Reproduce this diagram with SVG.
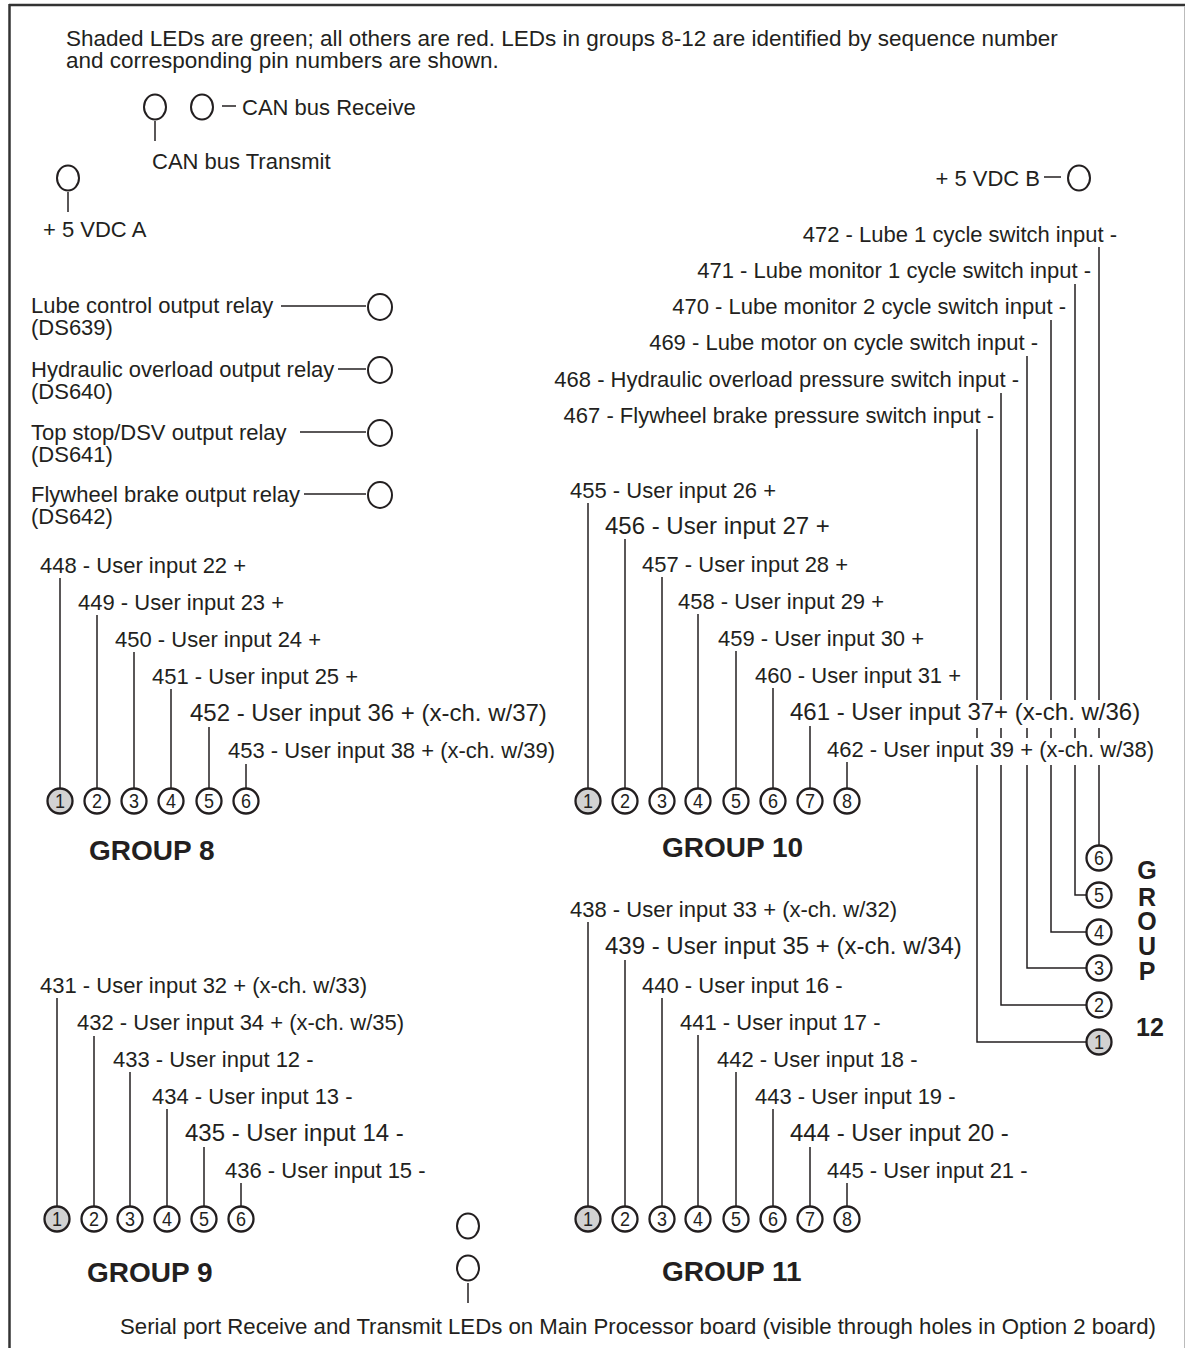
<svg xmlns="http://www.w3.org/2000/svg" width="1187" height="1348" viewBox="0 0 1187 1348">
<style>
text { font-family: "Liberation Sans", Arial, Helvetica, sans-serif; fill: #231f20; }
.t { font-size: 22px; }
.h { font-size: 22.5px; }
.b { font-size: 24px; }
.e { text-anchor: end; }
.g { font-size: 28px; font-weight: bold; }
.v { font-size: 25px; font-weight: bold; text-anchor: middle; }
.n { font-size: 20px; text-anchor: middle; }
.ln { stroke: #231f20; stroke-width: 1.5; fill: none; }
.led { fill: #ffffff; stroke: #231f20; stroke-width: 2; }
.d { fill: #ffffff; stroke: #231f20; stroke-width: 2.3; }
.on { fill: #d2d2d2; }
</style>
<defs>
<circle id="c" r="12.5"/>
</defs>
<rect x="0" y="0" width="1187" height="1348" fill="#ffffff"/>
<g id="frame">
<line x1="9" y1="5" x2="1185" y2="5" stroke="#333" stroke-width="2.5"/>
<line x1="9.5" y1="4" x2="9.5" y2="1348" stroke="#333" stroke-width="2.5"/>
<line x1="1184.5" y1="6" x2="1184.5" y2="1348" stroke="#bbb" stroke-width="1"/>
</g>
<g id="header">
<text class="h" x="66" y="46">Shaded LEDs are green; all others are red. LEDs in groups 8-12 are identified by sequence number</text>
<text class="h" x="66" y="68">and corresponding pin numbers are shown.</text>
</g>
<g id="connectors">
<line class="ln" x1="155" y1="121" x2="155" y2="141"/>
<line class="ln" x1="222" y1="106" x2="236" y2="106"/>
<line class="ln" x1="68" y1="192" x2="68" y2="212"/>
<line class="ln" x1="1044" y1="177" x2="1061" y2="177"/>
<line class="ln" x1="281" y1="306" x2="366" y2="306"/>
<line class="ln" x1="338" y1="369" x2="366" y2="369"/>
<line class="ln" x1="300" y1="432" x2="366" y2="432"/>
<line class="ln" x1="304" y1="494" x2="366" y2="494"/>
<line class="ln" x1="468" y1="1283" x2="468" y2="1303"/>
<!-- group 8 -->
<line class="ln" x1="60" y1="578" x2="60" y2="788"/>
<line class="ln" x1="97" y1="615" x2="97" y2="788"/>
<line class="ln" x1="134" y1="652" x2="134" y2="788"/>
<line class="ln" x1="171" y1="689" x2="171" y2="788"/>
<line class="ln" x1="209" y1="727" x2="209" y2="788"/>
<line class="ln" x1="246" y1="764" x2="246" y2="788"/>
<!-- group 10 -->
<line class="ln" x1="588" y1="503" x2="588" y2="788"/>
<line class="ln" x1="625" y1="539" x2="625" y2="788"/>
<line class="ln" x1="662" y1="577" x2="662" y2="788"/>
<line class="ln" x1="698" y1="614" x2="698" y2="788"/>
<line class="ln" x1="736" y1="651" x2="736" y2="788"/>
<line class="ln" x1="773" y1="688" x2="773" y2="788"/>
<line class="ln" x1="810" y1="726" x2="810" y2="788"/>
<line class="ln" x1="847" y1="762" x2="847" y2="788"/>
<!-- group 9 -->
<line class="ln" x1="57" y1="998" x2="57" y2="1206"/>
<line class="ln" x1="94" y1="1036" x2="94" y2="1206"/>
<line class="ln" x1="130" y1="1072" x2="130" y2="1206"/>
<line class="ln" x1="167" y1="1109" x2="167" y2="1206"/>
<line class="ln" x1="204" y1="1147" x2="204" y2="1206"/>
<line class="ln" x1="241" y1="1183" x2="241" y2="1206"/>
<!-- group 11 -->
<line class="ln" x1="588" y1="922" x2="588" y2="1206"/>
<line class="ln" x1="625" y1="960" x2="625" y2="1206"/>
<line class="ln" x1="662" y1="998" x2="662" y2="1206"/>
<line class="ln" x1="698" y1="1035" x2="698" y2="1206"/>
<line class="ln" x1="736" y1="1072" x2="736" y2="1206"/>
<line class="ln" x1="773" y1="1109" x2="773" y2="1206"/>
<line class="ln" x1="810" y1="1147" x2="810" y2="1206"/>
<line class="ln" x1="847" y1="1183" x2="847" y2="1206"/>
<!-- group 12 -->
<path class="ln" d="M977 429 V700 M977 728 V738 M977 765 V1042 H1086"/>
<path class="ln" d="M1001 393 V700 M1001 728 V738 M1001 765 V1005 H1086"/>
<path class="ln" d="M1027 356 V700 M1027 728 V738 M1027 765 V968 H1086"/>
<path class="ln" d="M1051 320 V700 M1051 728 V738 M1051 765 V932 H1086"/>
<path class="ln" d="M1075 284 V700 M1075 728 V738 M1075 765 V895 H1086"/>
<path class="ln" d="M1099 247 V700 M1099 728 V738 M1099 765 V846"/>
</g>
<g id="can-bus">
<ellipse class="led" cx="155" cy="107" rx="11" ry="12.5"/>
<ellipse class="led" cx="202" cy="107" rx="11" ry="12.5"/>
<text class="t" x="242" y="115">CAN bus Receive</text>
<text class="t" x="152" y="169">CAN bus Transmit</text>
</g>
<g id="vdc-a">
<ellipse class="led" cx="68" cy="178" rx="11" ry="12.5"/>
<text class="t" x="43" y="237">+ 5 VDC A</text>
</g>
<g id="vdc-b">
<ellipse class="led" cx="1079" cy="178" rx="11" ry="12.5"/>
<text class="t e" x="1040" y="186">+ 5 VDC B</text>
</g>
<g id="relays">
<text class="t" x="31" y="313">Lube control output relay</text>
<text class="t" x="31" y="335">(DS639)</text>
<ellipse class="led" cx="380" cy="307" rx="12" ry="13"/>
<text class="t" x="31" y="377">Hydraulic overload output relay</text>
<text class="t" x="31" y="399">(DS640)</text>
<ellipse class="led" cx="380" cy="370" rx="12" ry="13"/>
<text class="t" x="31" y="440">Top stop/DSV output relay</text>
<text class="t" x="31" y="462">(DS641)</text>
<ellipse class="led" cx="380" cy="433" rx="12" ry="13"/>
<text class="t" x="31" y="502">Flywheel brake output relay</text>
<text class="t" x="31" y="524">(DS642)</text>
<ellipse class="led" cx="380" cy="495" rx="12" ry="13"/>
</g>
<g id="group8">
<text class="t" x="40" y="573">448 - User input 22 +</text>
<text class="t" x="78" y="610">449 - User input 23 +</text>
<text class="t" x="115" y="647">450 - User input 24 +</text>
<text class="t" x="152" y="684">451 - User input 25 +</text>
<text class="b" x="190" y="721">452 - User input 36 + (x-ch. w/37)</text>
<text class="t" x="228" y="758">453 - User input 38 + (x-ch. w/39)</text>
<use href="#c" class="d on" x="60" y="801"/><text class="n" x="60" y="808" textLength="10" lengthAdjust="spacingAndGlyphs">1</text>
<use href="#c" class="d" x="97" y="801"/><text class="n" x="97" y="808" textLength="10" lengthAdjust="spacingAndGlyphs">2</text>
<use href="#c" class="d" x="134" y="801"/><text class="n" x="134" y="808" textLength="10" lengthAdjust="spacingAndGlyphs">3</text>
<use href="#c" class="d" x="171" y="801"/><text class="n" x="171" y="808" textLength="10" lengthAdjust="spacingAndGlyphs">4</text>
<use href="#c" class="d" x="209" y="801"/><text class="n" x="209" y="808" textLength="10" lengthAdjust="spacingAndGlyphs">5</text>
<use href="#c" class="d" x="246" y="801"/><text class="n" x="246" y="808" textLength="10" lengthAdjust="spacingAndGlyphs">6</text>
<text class="g" x="89" y="860">GROUP 8</text>
</g>
<g id="group10">
<text class="t" x="570" y="498">455 - User input 26 +</text>
<text class="b" x="605" y="534">456 - User input 27 +</text>
<text class="t" x="642" y="572">457 - User input 28 +</text>
<text class="t" x="678" y="609">458 - User input 29 +</text>
<text class="t" x="718" y="646">459 - User input 30 +</text>
<text class="t" x="755" y="683">460 - User input 31 +</text>
<text class="b" x="790" y="720">461 - User input 37+ (x-ch. w/36)</text>
<text class="t" x="827" y="757">462 - User input 39 + (x-ch. w/38)</text>
<use href="#c" class="d on" x="588" y="801"/><text class="n" x="588" y="808" textLength="10" lengthAdjust="spacingAndGlyphs">1</text>
<use href="#c" class="d" x="625" y="801"/><text class="n" x="625" y="808" textLength="10" lengthAdjust="spacingAndGlyphs">2</text>
<use href="#c" class="d" x="662" y="801"/><text class="n" x="662" y="808" textLength="10" lengthAdjust="spacingAndGlyphs">3</text>
<use href="#c" class="d" x="698" y="801"/><text class="n" x="698" y="808" textLength="10" lengthAdjust="spacingAndGlyphs">4</text>
<use href="#c" class="d" x="736" y="801"/><text class="n" x="736" y="808" textLength="10" lengthAdjust="spacingAndGlyphs">5</text>
<use href="#c" class="d" x="773" y="801"/><text class="n" x="773" y="808" textLength="10" lengthAdjust="spacingAndGlyphs">6</text>
<use href="#c" class="d" x="810" y="801"/><text class="n" x="810" y="808" textLength="10" lengthAdjust="spacingAndGlyphs">7</text>
<use href="#c" class="d" x="847" y="801"/><text class="n" x="847" y="808" textLength="10" lengthAdjust="spacingAndGlyphs">8</text>
<text class="g" x="662" y="857">GROUP 10</text>
</g>
<g id="group12">
<text class="t e" x="1117" y="242">472 - Lube 1 cycle switch input -</text>
<text class="t e" x="1091" y="278">471 - Lube monitor 1 cycle switch input -</text>
<text class="t e" x="1066" y="314">470 - Lube monitor 2 cycle switch input -</text>
<text class="t e" x="1038" y="350">469 - Lube motor on cycle switch input -</text>
<text class="t e" x="1019" y="387">468 - Hydraulic overload pressure switch input -</text>
<text class="t e" x="994" y="423">467 - Flywheel brake pressure switch input -</text>
<use href="#c" class="d" x="1099" y="858"/><text class="n" x="1099" y="865" textLength="10" lengthAdjust="spacingAndGlyphs">6</text>
<use href="#c" class="d" x="1099" y="895"/><text class="n" x="1099" y="902" textLength="10" lengthAdjust="spacingAndGlyphs">5</text>
<use href="#c" class="d" x="1099" y="932"/><text class="n" x="1099" y="939" textLength="10" lengthAdjust="spacingAndGlyphs">4</text>
<use href="#c" class="d" x="1099" y="968"/><text class="n" x="1099" y="975" textLength="10" lengthAdjust="spacingAndGlyphs">3</text>
<use href="#c" class="d" x="1099" y="1005"/><text class="n" x="1099" y="1012" textLength="10" lengthAdjust="spacingAndGlyphs">2</text>
<use href="#c" class="d on" x="1099" y="1042"/><text class="n" x="1099" y="1049" textLength="10" lengthAdjust="spacingAndGlyphs">1</text>
<text class="v" x="1147" y="879">G</text>
<text class="v" x="1147" y="906">R</text>
<text class="v" x="1147" y="930">O</text>
<text class="v" x="1147" y="955">U</text>
<text class="v" x="1147" y="980">P</text>
<text class="v" x="1150" y="1036">12</text>
</g>
<g id="group11">
<text class="t" x="570" y="917">438 - User input 33 + (x-ch. w/32)</text>
<text class="b" x="605" y="954">439 - User input 35 + (x-ch. w/34)</text>
<text class="t" x="642" y="993">440 - User input 16 -</text>
<text class="t" x="680" y="1030">441 - User input 17 -</text>
<text class="t" x="717" y="1067">442 - User input 18 -</text>
<text class="t" x="755" y="1104">443 - User input 19 -</text>
<text class="b" x="790" y="1141">444 - User input 20 -</text>
<text class="t" x="827" y="1178">445 - User input 21 -</text>
<use href="#c" class="d on" x="588" y="1219"/><text class="n" x="588" y="1226" textLength="10" lengthAdjust="spacingAndGlyphs">1</text>
<use href="#c" class="d" x="625" y="1219"/><text class="n" x="625" y="1226" textLength="10" lengthAdjust="spacingAndGlyphs">2</text>
<use href="#c" class="d" x="662" y="1219"/><text class="n" x="662" y="1226" textLength="10" lengthAdjust="spacingAndGlyphs">3</text>
<use href="#c" class="d" x="698" y="1219"/><text class="n" x="698" y="1226" textLength="10" lengthAdjust="spacingAndGlyphs">4</text>
<use href="#c" class="d" x="736" y="1219"/><text class="n" x="736" y="1226" textLength="10" lengthAdjust="spacingAndGlyphs">5</text>
<use href="#c" class="d" x="773" y="1219"/><text class="n" x="773" y="1226" textLength="10" lengthAdjust="spacingAndGlyphs">6</text>
<use href="#c" class="d" x="810" y="1219"/><text class="n" x="810" y="1226" textLength="10" lengthAdjust="spacingAndGlyphs">7</text>
<use href="#c" class="d" x="847" y="1219"/><text class="n" x="847" y="1226" textLength="10" lengthAdjust="spacingAndGlyphs">8</text>
<text class="g" x="662" y="1281">GROUP 11</text>
</g>
<g id="group9">
<text class="t" x="40" y="993">431 - User input 32 + (x-ch. w/33)</text>
<text class="t" x="77" y="1030">432 - User input 34 + (x-ch. w/35)</text>
<text class="t" x="113" y="1067">433 - User input 12 -</text>
<text class="t" x="152" y="1104">434 - User input 13 -</text>
<text class="b" x="185" y="1141">435 - User input 14 -</text>
<text class="t" x="225" y="1178">436 - User input 15 -</text>
<use href="#c" class="d on" x="57" y="1219"/><text class="n" x="57" y="1226" textLength="10" lengthAdjust="spacingAndGlyphs">1</text>
<use href="#c" class="d" x="94" y="1219"/><text class="n" x="94" y="1226" textLength="10" lengthAdjust="spacingAndGlyphs">2</text>
<use href="#c" class="d" x="130" y="1219"/><text class="n" x="130" y="1226" textLength="10" lengthAdjust="spacingAndGlyphs">3</text>
<use href="#c" class="d" x="167" y="1219"/><text class="n" x="167" y="1226" textLength="10" lengthAdjust="spacingAndGlyphs">4</text>
<use href="#c" class="d" x="204" y="1219"/><text class="n" x="204" y="1226" textLength="10" lengthAdjust="spacingAndGlyphs">5</text>
<use href="#c" class="d" x="241" y="1219"/><text class="n" x="241" y="1226" textLength="10" lengthAdjust="spacingAndGlyphs">6</text>
<text class="g" x="87" y="1282">GROUP 9</text>
</g>
<g id="serial">
<ellipse class="led" cx="468" cy="1226" rx="11" ry="12.5"/>
<ellipse class="led" cx="468" cy="1268" rx="11" ry="12.5"/>
<text class="t" x="120" y="1334" style="font-size:22.2px">Serial port Receive and Transmit LEDs on Main Processor board (visible through holes in Option 2 board)</text>
</g>
</svg>
